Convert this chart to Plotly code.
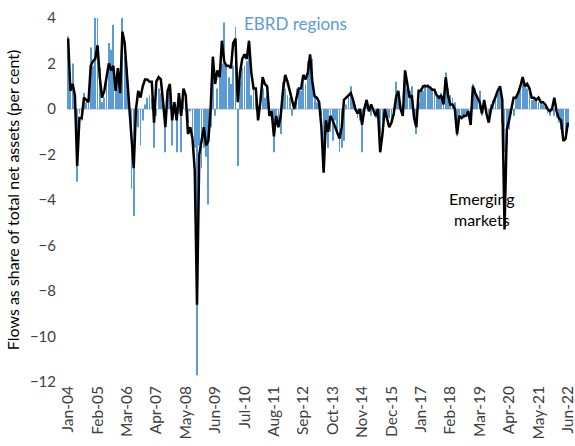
import pandas as pd
import plotly.graph_objects as go

months = [d.strftime("%b-%y") for d in pd.date_range("2004-01-01", "2022-06-01", freq="MS")]

emerging_markets = [
    3.1, 0.8, 1.1, 0.6, -2.5, -0.4, -0.4, 0.5, 0.4, 0.3, 1.9, 2.1, 2.2, 2.8, 1.4, 0.5, 0.8, 1.4, 2.0, 1.7,
    1.9, 0.8, 1.8, 0.7, 3.4, 2.9, 1.5, 0.1, -1.2, -2.6, 0.0, 0.8, 0.5, 1.0, 1.3, 1.3, 1.2, 1.2, -0.6, 1.2,
    1.4, 1.3, 0.3, -0.8, 0.8, 1.1, -0.5, 0.3, -0.5, 0.7, -0.3, 0.9, 0.6, -1.1, -0.8, -1.3, -2.7, -8.6, -2.0, -1.3,
    -0.8, -1.6, -1.4, 0.0, 2.3, 1.1, 1.7, 1.4, 3.0, 2.1, 1.9, 1.9, 1.8, 2.9, 3.1, 0.3, 1.6, 2.2, 2.4, 2.2,
    3.0, 1.6, 0.9, 0.9, -0.5, 0.3, 1.4, 1.1, 1.0, -0.3, -0.1, -1.2, -0.3, -0.8, -0.3, 0.8, 1.5, 1.2, 0.8, 0.4,
    0.0, 0.5, 0.9, 0.9, 1.5, 1.3, 1.6, 2.4, 1.2, 0.55, 0.5, 0.3, -0.8, -2.8, -0.5, -1.0, -0.3, -0.5, -0.8, -1.1,
    -1.3, -0.8, 0.4, 0.5, 0.6, 0.7, 0.4, 0.0, -0.2, 0.0, -0.7, 0.0, 0.4, -0.1, 0.2, -0.1, -0.3, 0.0, -1.9, -1.1,
    0.0, -0.4, -0.8, -0.6, -0.2, 0.5, 0.8, 0.0, -0.3, 1.7, 1.1, 0.5, 0.6, -0.4, -0.8, 0.8, 0.8, 1.0, 1.0, 1.0,
    0.95, 0.85, 0.85, 0.6, 0.5, 0.6, 0.2, 1.4, 0.6, 0.2, 0.2, 0.0, -1.1, -0.3, -0.4, -0.3, -0.3, -0.1, -0.7, 1.0,
    0.7, 0.5, 0.3, -0.2, 0.4, -0.2, -0.6, 0.0, 0.3, 0.6, 0.8, 1.0, 0.4, -5.3, -0.9, -0.5, 0.0, 0.5, 0.5, 0.7,
    1.0, 1.4, 1.0, 1.1, 0.9, 0.5, 0.5, 0.4, 0.5, 0.3, 0.3, 0.2, 0.0, -0.1, 0.0, 0.5, -0.1, -0.4, -0.5, -1.4,
    -1.3, -0.6,
]

ebrd_regions = [
    3.2, 1.5, 2.0, 0.3, -3.2, -0.2, -0.5, 0.7, 0.3, 0.5, 2.7, 1.9, 4.0, 4.0, 1.8, 0.3, 0.5, 1.2, 2.9, 2.6,
    3.7, 1.3, 1.2, 1.5, 4.0, 2.3, 1.8, 0.4, -3.5, -4.7, -0.3, -0.8, -1.6, -0.5, 0.2, 0.5, 0.6, 0.5, -1.7, -0.3,
    0.9, 0.7, 0.2, -1.9, 0.7, 0.9, -1.6, 0.2, -1.9, -0.2, -1.9, 0.9, 0.3, -0.6, -0.1, -1.4, -1.7, -11.7, -1.6, -2.6,
    -1.7, -2.1, -4.2, -0.8, 2.0, -0.3, 0.9, 1.5, 2.0, 3.8, 1.9, 1.4, 1.1, 1.9, 3.6, -2.5, 1.2, 1.8, 1.9, 2.1,
    2.4, 0.6, 0.9, 0.5, -0.4, 0.2, 0.9, 0.5, 0.6, 0.3, -0.5, -1.9, -0.3, -0.5, -1.1, 1.2, 0.9, 0.6, 0.5, -0.3,
    0.2, 0.9, 0.8, 0.8, 1.4, 1.1, 2.1, 1.8, 2.2, 0.6, 0.3, 0.2, -0.3, -2.4, -1.1, -1.7, -1.0, -1.4, -0.5, -1.1,
    -1.9, -1.7, -1.4, 0.2, 0.6, 1.0, 0.5, 0.2, -0.4, -0.5, -1.9, -0.3, 0.3, -0.1, -0.3, 0.0, -0.4, -0.5, -1.1, -0.5,
    -0.1, -0.3, -0.4, -0.5, -0.3, 1.2, 0.5, 0.1, -0.2, 1.5, 0.9, 0.8, 1.0, -0.2, -1.1, 0.3, 0.9, 0.8, 1.1, 1.1,
    0.9, 0.8, 0.8, 0.6, 0.6, 0.7, 0.6, 1.6, 0.9, 0.6, 0.5, 0.3, -1.2, -0.5, -0.3, -0.4, -0.2, -0.3, -0.6, 1.1,
    0.9, 0.5, 0.8, -0.3, 0.2, -0.2, -0.4, 0.2, 0.4, 0.5, 0.7, 0.8, -0.6, -1.9, -1.5, -0.9, -0.2, -0.3, 0.5, 0.6,
    0.9, 1.3, 1.1, 0.9, 0.8, 0.4, 0.5, 0.4, 0.3, 0.3, 0.2, 0.1, -0.2, -0.3, -0.1, -0.3, -0.4, -0.6, -0.9, -1.1,
    -1.2, -0.8,
]

tick_labels = months[::13]
y_ticks = [4, 2, 0, -2, -4, -6, -8, -10, -12]

FONT = "Lato, Carlito, Calibri, sans-serif"
BLUE = "#5B9BD5"

fig = go.Figure()
fig.add_trace(go.Bar(x=months, y=ebrd_regions, marker=dict(color=BLUE, line=dict(width=0)),
                     name="EBRD regions"))
fig.add_trace(go.Scatter(x=months, y=emerging_markets, mode="lines",
                         line=dict(color="black", width=2.5), name="Emerging markets"))

fig.update_layout(
    width=575, height=446,
    margin=dict(l=67, r=6, t=18, b=64),
    paper_bgcolor="white", plot_bgcolor="white",
    showlegend=False, bargap=0.62,
    font=dict(family=FONT, size=14, color="#404040"),
    xaxis=dict(type="category", tickmode="array", tickvals=tick_labels, ticktext=tick_labels,
               tickangle=-90, range=[-0.5, len(months) - 0.5], showgrid=False, showline=False,
               ticks="", tickfont=dict(size=15.5, color="#404040"), zeroline=False, automargin=False),
    yaxis=dict(range=[-12, 4], tickmode="array", tickvals=y_ticks, showgrid=False,
               zeroline=True, zerolinecolor="#d9d9d9", zerolinewidth=2, showline=False,
               ticks="", ticklabelstandoff=10, automargin=False,
               tickfont=dict(size=15, color="#404040"),
               title=dict(text="Flows as share of total net assets (per cent)",
                          font=dict(size=16, color="black"), standoff=6)),
    annotations=[
        dict(text="EBRD regions", x=0.456, y=0.984, xref="paper", yref="paper",
             xanchor="center", yanchor="middle", showarrow=False,
             font=dict(family=FONT, size=17, color=BLUE)),
        dict(text="Emerging<br>markets", x=0.827, y=0.475, xref="paper", yref="paper",
             xanchor="center", yanchor="middle", showarrow=False, align="center",
             font=dict(family=FONT, size=16, color="black")),
    ],
)

fig.write_html("out.html", config={"displayModeBar": False},
               post_script="document.body.style.margin='0px';document.body.style.overflow='hidden';")
